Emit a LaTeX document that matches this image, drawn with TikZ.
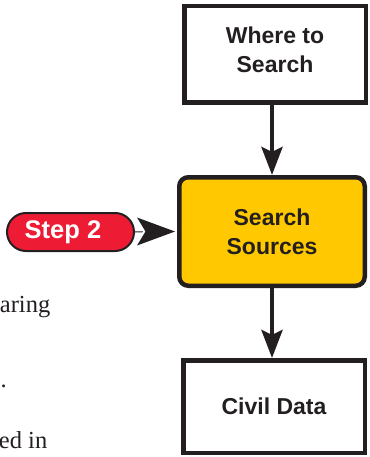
\documentclass[tikz,border=0pt]{standalone}
\usepackage{fontspec}
\setmainfont{Liberation Serif}
\setsansfont{Liberation Sans}
\usetikzlibrary{arrows.meta}
\definecolor{ink}{RGB}{35,31,32}
\definecolor{gold}{RGB}{255,200,0}
\definecolor{stepred}{RGB}{237,28,52}

\begin{document}
\begin{tikzpicture}[x=1pt,y=-1pt,
  box/.style={draw=ink, line width=4.5pt, fill=white, align=center, text=ink,
    font=\sffamily\bfseries\fontsize{23}{29}\selectfont, inner sep=0pt},
  flow/.style={draw=ink, line width=4.5pt, -{Stealth[length=28pt,width=21pt,inset=5pt]}},
  pill/.style={draw=ink, line width=2pt, fill=stepred, rounded corners=19pt,
    inner sep=0pt, text=white, font=\sffamily\bfseries\fontsize{25.5}{30}\selectfont},
  pointerhead/.style={fill=ink, preaction={draw=white, line width=4pt, line join=round}},
  prose/.style={font=\fontsize{24.5}{30}\selectfont, text=ink, inner sep=0pt, anchor=base east},
]
\useasboundingbox (0,0) rectangle (369,457);

% running text beside the flow chart
\node[prose] (p1) at (50.5,312) {aring};
\node[prose] (p2) at (7,387) {.};
\node[prose] (p3) at (47.5,448) {ed in};

% flow chart boxes
\node[box, minimum width=181.5pt, minimum height=96.5pt, text depth=9pt] (where) at (275,54.5) {Where to\\Search};
\node[box, fill=gold, rounded corners=9pt, minimum width=185.5pt, minimum height=108.5pt] (search) at (272,231.5) {Search\\Sources};
\node[box, minimum width=181.5pt, minimum height=92.5pt] (civil) at (274,406.5) {Civil Data};

% step marker
\node[pill, minimum width=127pt, minimum height=38pt] (step) at (70.5,232) {Step 2\hspace*{15pt}};

% connectors
\draw[flow] (where.south -| search.north) -- (search.north);
\draw[flow] (search.south) -- (search.south |- civil.north);

% step pointer: short stem and a notched head outlined in white
\coordinate (tip) at ([xshift=-2pt]search.west);
\draw[ink, line width=1pt] (step.east) -- (tip);
\path[pointerhead] (tip) -- ++(-38,-14) -- ++(8.5,14) -- ++(-8.5,14) -- cycle;
\end{tikzpicture}
\end{document}
